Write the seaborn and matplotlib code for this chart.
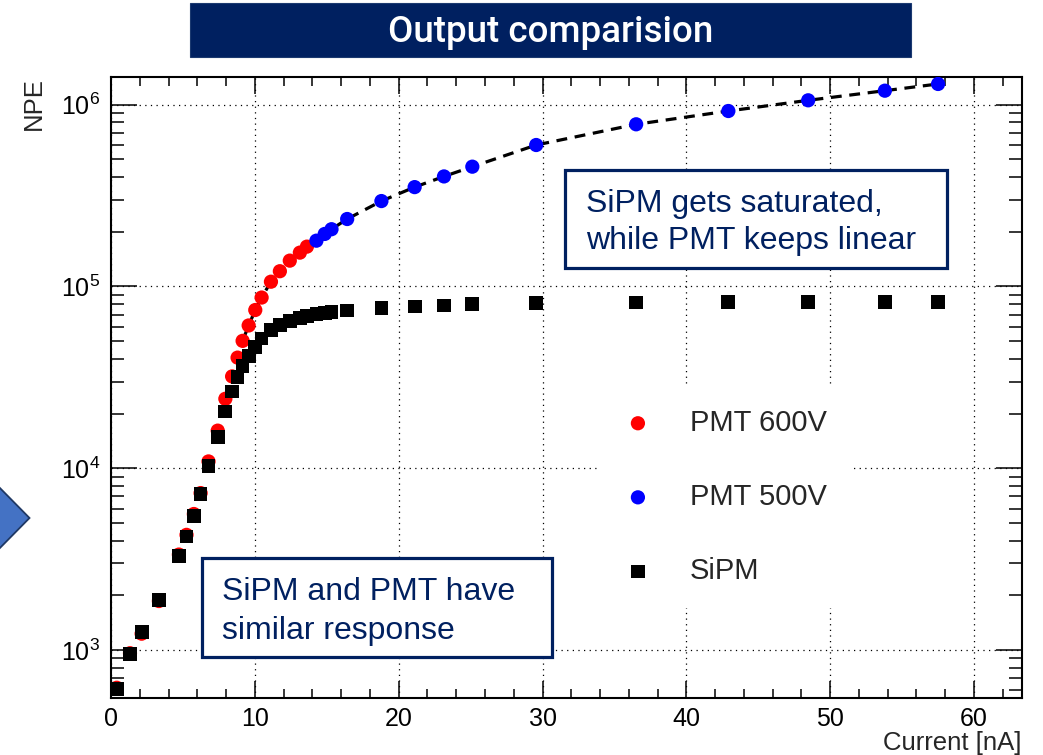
import numpy as np
import pandas as pd
import seaborn as sns
import matplotlib
matplotlib.use("Agg")
import matplotlib.pyplot as plt
from matplotlib.patches import Rectangle, Polygon
from matplotlib.ticker import MultipleLocator, LogLocator

# ---- measured data ----
sipm_current = [0.40, 1.32, 2.13, 3.33, 4.72, 5.25, 5.76, 6.23, 6.78, 7.42, 7.95,
                8.42, 8.80, 9.15, 9.57, 10.03, 10.47, 11.12, 11.74, 12.43, 13.13,
                13.62, 14.28, 14.86, 15.33, 16.42, 18.80, 21.11, 23.15, 25.12,
                29.56, 36.51, 42.92, 48.47, 53.80, 57.50]
sipm_npe = [608, 950, 1256, 1885, 3300, 4210, 5470, 7200, 10300, 14900, 20500,
            26400, 31900, 36500, 41400, 46600, 51800, 57800, 61500, 64700, 67300,
            69000, 70800, 71700, 72600, 73800, 76100, 77600, 78600, 80000,
            81100, 81700, 82100, 82100, 82200, 82200]

pmt600_current = [0.40, 1.32, 2.13, 3.33, 4.72, 5.25, 5.76, 6.23, 6.78, 7.42, 7.95,
                  8.42, 8.80, 9.15, 9.57, 10.03, 10.47, 11.12, 11.74, 12.43, 13.13,
                  13.62]
pmt600_npe = [620, 960, 1230, 1860, 3350, 4300, 5600, 7300, 10900, 16100, 24100,
              32000, 40600, 50200, 61000, 74200, 86900, 106200, 121300, 138700,
              153500, 165600]

pmt500_current = [14.28, 14.86, 15.33, 16.42, 18.80, 21.11, 23.15, 25.12, 29.56,
                  36.51, 42.92, 48.47, 53.80, 57.50]
pmt500_npe = [178600, 194500, 206500, 235000, 295000, 352000, 403000, 456000,
              600000, 780000, 923000, 1057000, 1194000, 1300000]

series_labels = ["PMT 600V", "PMT 500V", "SiPM"]
x_label = "Current [nA]"
y_label = "NPE"
title = "Output comparision"
note_saturation = ["SiPM gets saturated,", "while PMT keeps linear"]
note_similar = ["SiPM and PMT have", "similar response"]

# ---- style ----
sns.set_theme(style="ticks")
plt.rcParams["font.family"] = ["Liberation Sans", "DejaVu Sans"]
plt.rcParams["mathtext.fontset"] = "custom"
plt.rcParams["mathtext.rm"] = "Liberation Sans"
plt.rcParams["mathtext.it"] = "Liberation Sans:italic"
plt.rcParams["axes.linewidth"] = 1.5

W, H = 1043, 755
fig = plt.figure(figsize=(W / 100, H / 100), dpi=100, facecolor="white")


def fx(px):
    return px / W


def fy(py):
    return 1 - py / H


ax = fig.add_axes([fx(111), fy(697.5), fx(1021.5) - fx(111), fy(77) - fy(697.5)])
ax.set_facecolor("white")

df600 = pd.DataFrame({"current": pmt600_current, "npe": pmt600_npe})
df500 = pd.DataFrame({"current": pmt500_current, "npe": pmt500_npe})
dfs = pd.DataFrame({"current": sipm_current, "npe": sipm_npe})

# fitted PMT trend (dashed) through both PMT settings above ~9 nA
pmt_all = pd.concat([df600, df500]).sort_values("current")
pmt_fit = pmt_all[pmt_all["current"] >= 9.0]
sns.lineplot(data=pmt_fit, x="current", y="npe", ax=ax, color="black",
             linestyle=(0, (3.4, 2.4)), linewidth=2.3, estimator=None,
             legend=False, zorder=2)

sns.scatterplot(data=df600, x="current", y="npe", ax=ax, color="#ff0000",
                marker="o", s=105, edgecolor="none", label=series_labels[0], zorder=3)
sns.scatterplot(data=df500, x="current", y="npe", ax=ax, color="#0000ff",
                marker="o", s=105, edgecolor="none", label=series_labels[1], zorder=3)
sns.scatterplot(data=dfs, x="current", y="npe", ax=ax, color="black",
                marker="s", s=98, edgecolor="none", label=series_labels[2], zorder=4)

ax.set_yscale("log")
ax.set_xlim(0, 63.3)
ax.set_ylim(548, 1.42e6)

ax.xaxis.set_major_locator(MultipleLocator(10))
ax.xaxis.set_minor_locator(MultipleLocator(2))
ax.yaxis.set_major_locator(LogLocator(base=10))
ax.yaxis.set_minor_locator(LogLocator(base=10, subs=np.arange(2, 10)))

ax.tick_params(axis="both", which="both", direction="in", top=True, right=True,
               colors="black", width=1.1, labelsize=18)
ax.tick_params(axis="x", which="major", length=12, pad=7)
ax.tick_params(axis="x", which="minor", length=6.5)
ax.tick_params(axis="y", which="major", length=18.5, pad=8)
ax.tick_params(axis="y", which="minor", length=9.5)
for sp in ax.spines.values():
    sp.set_color("black")
    sp.set_linewidth(1.5)

ax.grid(True, which="major", color="black", linestyle=(0, (1, 3.5)), linewidth=0.9)
ax.set_axisbelow(True)

ax.set_xlabel(x_label, fontsize=18.5, loc="right", labelpad=0)
ax.set_ylabel("")
fig.text(fx(34), fy(77), y_label, rotation=90, ha="center", va="top", fontsize=18.5)

# legend without border, white background
leg = ax.legend(loc="center left", bbox_to_anchor=(fx(600), fy(497)),
                bbox_transform=fig.transFigure, frameon=True, fancybox=False,
                facecolor="white", edgecolor="none", framealpha=1,
                fontsize=21, handlelength=1.0, handletextpad=1.29,
                labelspacing=1.58, borderpad=0.8, borderaxespad=0)
leg.set_zorder(6)

navy = "#002060"

# title banner
fig.patches.append(Rectangle((fx(190), fy(57)), fx(911) - fx(190), fy(3) - fy(57),
                             transform=fig.transFigure, facecolor=navy,
                             edgecolor="#1c3a70", linewidth=0.8, zorder=1))
fig.text(fx(550.5), fy(32), title, color="white", ha="center", va="center",
         fontsize=26.5, family=["Roboto", "DejaVu Sans"], fontweight="medium", zorder=2)

# side arrow
fig.patches.append(Polygon([(fx(-6), fy(482)), (fx(29.5), fy(518)), (fx(-6), fy(554))],
                           closed=True, transform=fig.transFigure,
                           facecolor="#4472c4", edgecolor="#1f3864", linewidth=1.3))


def note_box(x0, y0, x1, y1, lines, tx, baselines):
    ax.add_patch(Rectangle((fx(x0), fy(y1)), fx(x1) - fx(x0), fy(y0) - fy(y1),
                           transform=fig.transFigure, facecolor="white",
                           edgecolor=navy, linewidth=2.3, zorder=7, clip_on=False))
    for line, b in zip(lines, baselines):
        ax.text(fx(tx), fy(b), line, transform=fig.transFigure, color=navy,
                fontsize=23, ha="left", va="baseline", zorder=8)


note_box(565, 170, 947, 268, note_saturation, 586, [211.7, 249.5])
note_box(201.7, 558.3, 551.7, 656.7, note_similar, 221.7, [600, 639.5])

fig.savefig("out.png", dpi=100, facecolor="white")
